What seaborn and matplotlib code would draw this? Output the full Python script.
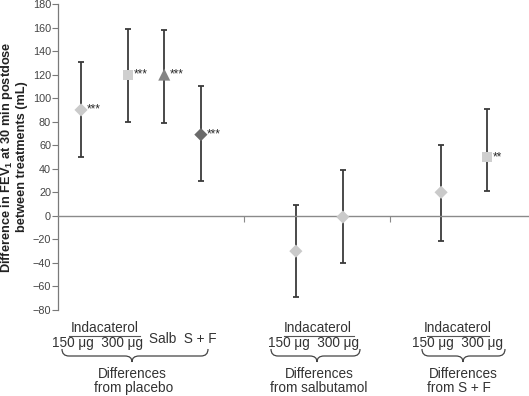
import matplotlib
matplotlib.use("Agg")
import matplotlib.pyplot as plt
import seaborn as sns
import pandas as pd
from matplotlib.path import Path
from matplotlib.patches import PathPatch

# ---------------- data ----------------
comparisons = ["Ind 150 vs placebo", "Ind 300 vs placebo", "Salb vs placebo", "S+F vs placebo",
               "Ind 150 vs salbutamol", "Ind 300 vs salbutamol",
               "Ind 150 vs S+F", "Ind 300 vs S+F"]
diff = [90, 120, 120, 69, -30, -1, 20, 50]
ci_low = [50, 80, 79, 30, -69, -40, -21, 21]
ci_high = [131, 159, 158, 110, 9, 39, 60, 91]
signif = ["***", "***", "***", "***", "", "", "", "**"]
kind = ["ind150", "ind300", "salb", "sf", "ind150", "ind150", "ind150", "ind300"]
y_ticks = list(range(-80, 181, 20))

# ---------------- layout (x slots) ----------------
x_slot = [0.49, 1.49, 2.26, 3.04, 5.06, 6.06, 8.15, 9.13]
group_ticks = [3.96, 7.06]

df = pd.DataFrame({"comparison": comparisons, "x": x_slot, "diff": diff,
                   "lo": ci_low, "hi": ci_high, "kind": kind, "sig": signif})

plt.rcParams["font.family"] = ["Liberation Sans", "DejaVu Sans"]
plt.rcParams["mathtext.fontset"] = "custom"
plt.rcParams["mathtext.rm"] = "Liberation Sans"
plt.rcParams["mathtext.bf"] = "Liberation Sans:bold"

W, H = 529, 396
fig = plt.figure(figsize=(W / 100, H / 100), dpi=100)
ax = fig.add_axes([58 / W, 86 / H, 471 / W, 306 / H])

# error bars
ax.errorbar(df["x"], df["diff"],
            yerr=[df["diff"] - df["lo"], df["hi"] - df["diff"]],
            fmt="none", ecolor="#3a3a3a", elinewidth=1.3, capsize=2.2, capthick=1.3, zorder=2)

palette = {"ind150": "#cacaca", "ind300": "#cfcfcf", "salb": "#858585", "sf": "#6a6a6a"}
markers = {"ind150": "D", "ind300": "s", "salb": "^", "sf": "D"}
sizes = {"ind150": 45, "ind300": 50, "salb": 75, "sf": 45}
sns.scatterplot(data=df, x="x", y="diff", hue="kind", style="kind", size="kind",
                palette=palette, markers=markers, sizes=sizes,
                edgecolor="none", linewidth=0, legend=False, ax=ax, zorder=3)

for _, r in df.iterrows():
    if r["sig"]:
        ax.annotate(r["sig"], (r["x"], r["diff"]), xytext=(6, 0), textcoords="offset pixels",
                    ha="left", va="center", fontsize=8.5, color="#2a2a2a")

ax.set_xlim(0, 10.02)
ax.set_ylim(-80, 180)
ax.set_yticks(y_ticks)
ax.set_yticklabels([str(v).replace("-", "\u2212") for v in y_ticks], fontsize=7.8, color="#444444")
ax.set_xticks(group_ticks)
ax.set_xticklabels([])
ax.set_xlabel("")
for s in ["top", "right"]:
    ax.spines[s].set_visible(False)
ax.spines["left"].set_color("#7a7a7a")
ax.spines["bottom"].set_color("#8a8a8a")
ax.spines["bottom"].set_position(("data", 0))
ax.spines["left"].set_linewidth(0.9)
ax.spines["bottom"].set_linewidth(1.0)
ax.tick_params(axis="y", length=4, width=0.8, color="#7a7a7a", pad=1)
ax.tick_params(axis="x", length=4, width=0.8, color="#8a8a8a", direction="out")

ax.set_ylabel("Difference in FEV$_\\mathbf{1}$ at 30 min postdose\nbetween treatments (mL)",
              fontsize=9.2, fontweight="bold", color="#222222", labelpad=3, linespacing=1.15)


def fx(x):
    return x / W


def fy(y):
    return 1 - y / H


def text(x, y, s, ha="center"):
    fig.text(fx(x), fy(y), s, ha=ha, va="baseline", fontsize=9.8, color="#333333")


def hline(x1, x2, y):
    fig.add_artist(plt.Line2D([fx(x1), fx(x2)], [fy(y), fy(y)], color="#555555", lw=0.8))


def brace(x1, x2, xm, ytop, ymid, ybot, r=7):
    verts = [(x1, ytop), (x1, ymid), (x1 + r, ymid),
             (xm - r, ymid),
             (xm, ymid), (xm, ybot),
             (xm, ymid), (xm + r, ymid),
             (x2 - r, ymid),
             (x2, ymid), (x2, ytop)]
    codes = [Path.MOVETO, Path.CURVE3, Path.CURVE3,
             Path.LINETO,
             Path.CURVE3, Path.CURVE3,
             Path.CURVE3, Path.CURVE3,
             Path.LINETO,
             Path.CURVE3, Path.CURVE3]
    p = Path([(fx(a), fy(b)) for a, b in verts], codes)
    fig.add_artist(PathPatch(p, fill=False, edgecolor="#444444", lw=0.9,
                             transform=fig.transFigure))


# group 1
text(105, 332, "Indacaterol")
hline(69, 140, 336)
text(98, 347, "150 μg  300 μg")
text(149, 343, "Salb  S + F", ha="left")
brace(62, 208, 132, 349, 356, 362)
text(132, 378, "Differences")
text(134, 392, "from placebo")

# group 2
text(318, 332, "Indacaterol")
hline(284, 354, 336)
text(314, 347, "150 μg  300 μg")
brace(271, 360, 317, 349, 356, 362)
text(319, 378, "Differences")
text(319, 392, "from salbutamol")

# group 3
text(458, 332, "Indacaterol")
hline(427, 489, 336)
text(457, 347, "150 μg  300 μg")
brace(422, 505, 463, 349, 356, 362)
text(463, 378, "Differences")
text(459, 392, "from S + F")

fig.savefig("out.png", dpi=100)
